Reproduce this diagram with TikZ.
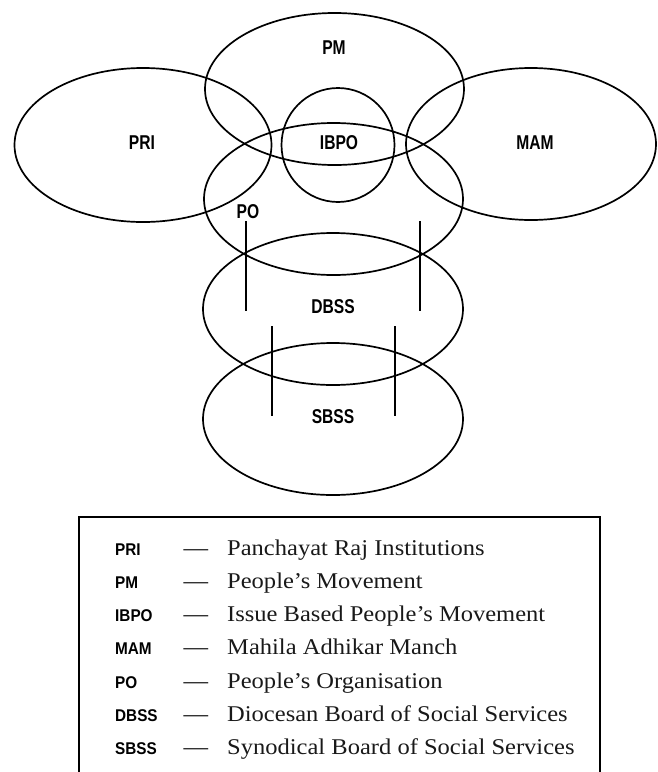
\documentclass[tikz,border=0pt]{standalone}
\usepackage{fontspec}
\setmainfont{Liberation Serif}
\newfontfamily\labfont[FakeStretch=0.78]{Liberation Sans}
\newfontfamily\abfont[FakeStretch=0.9]{Liberation Sans}
\newfontfamily\legfont[FakeStretch=1.09]{Liberation Serif}
\usetikzlibrary{shapes.geometric}
\begin{document}
\begin{tikzpicture}[x=1pt,y=-1pt,
  ring/.style={draw, ellipse, line width=1.7pt, inner sep=0pt, outer sep=0pt},
  lab/.style={font=\labfont\bfseries\fontsize{20}{24}\selectfont, inner sep=0pt},
  abbr/.style={font=\abfont\bfseries\fontsize{17}{20}\selectfont, anchor=base west, inner sep=0pt},
  desc/.style={font=\legfont\fontsize{22.5}{27}\selectfont, anchor=base west, inner sep=0pt, text=black!90},
  dashsym/.style={font=\legfont\fontsize{22.5}{27}\selectfont, anchor=base, inner sep=0pt},
  tick/.style={line width=1.3pt},
  frame/.style={line width=1.8pt}]
\useasboundingbox (0,0) rectangle (657,772);
% circles
\node[ring, minimum width=259pt, minimum height=152pt] (pm) at (334.5,89) {};
\node[ring, minimum width=257pt, minimum height=154pt] (pri) at (143,145) {};
\node[ring, minimum width=250pt, minimum height=152pt] (mam) at (531,144) {};
\node[ring, minimum width=113pt, minimum height=114pt] (ibpo) at (338,145) {};
\node[ring, minimum width=259pt, minimum height=152pt] (po) at (333.5,199) {};
\node[ring, minimum width=260pt, minimum height=152pt] (dbss) at (333,309) {};
\node[ring, minimum width=260pt, minimum height=152pt] (sbss) at (333,419) {};
% labels
\node[lab] (lpm) at (334,48) {PM};
\node[lab] (lpri) at (142,143) {PRI};
\node[lab] (libpo) at (339,143) {IBPO};
\node[lab] (lmam) at (535,143) {MAM};
\node[lab] (lpo) at (248,212) {PO};
\node[lab] (ldbss) at (333,307) {DBSS};
\node[lab] (lsbss) at (333,417) {SBSS};
% vertical ticks
\coordinate (a1) at (246,221); \coordinate (a2) at (246,311);
\coordinate (b1) at (420,221); \coordinate (b2) at (420,311);
\coordinate (c1) at (272,326); \coordinate (c2) at (272,416);
\coordinate (d1) at (395,326); \coordinate (d2) at (395,416);
\draw[tick] (a1) -- (a2);
\draw[tick] (b1) -- (b2);
\draw[tick] (c1) -- (c2);
\draw[tick] (d1) -- (d2);
% legend frame
\coordinate (f1) at (79,773); \coordinate (f2) at (79,517);
\coordinate (f3) at (600,517); \coordinate (f4) at (600,773);
\draw[frame] (f1) -- (f2) -- (f3) -- (f4);
% legend rows
\foreach \i/\ab/\tx in {0/PRI/Panchayat Raj Institutions,
  1/PM/People’s Movement,
  2/IBPO/Issue Based People’s Movement,
  3/MAM/Mahila Adhikar Manch,
  4/PO/People’s Organisation,
  5/DBSS/Diocesan Board of Social Services,
  6/SBSS/Synodical Board of Social Services}{
  \node[abbr] (ab\i) at (115,555+33.3*\i) {\ab};
  \node[dashsym] (dh\i) at (196,555+33.3*\i) {—};
  \node[desc] (tx\i) at (227,555+33.3*\i) {\tx};
}
\end{tikzpicture}
\end{document}
